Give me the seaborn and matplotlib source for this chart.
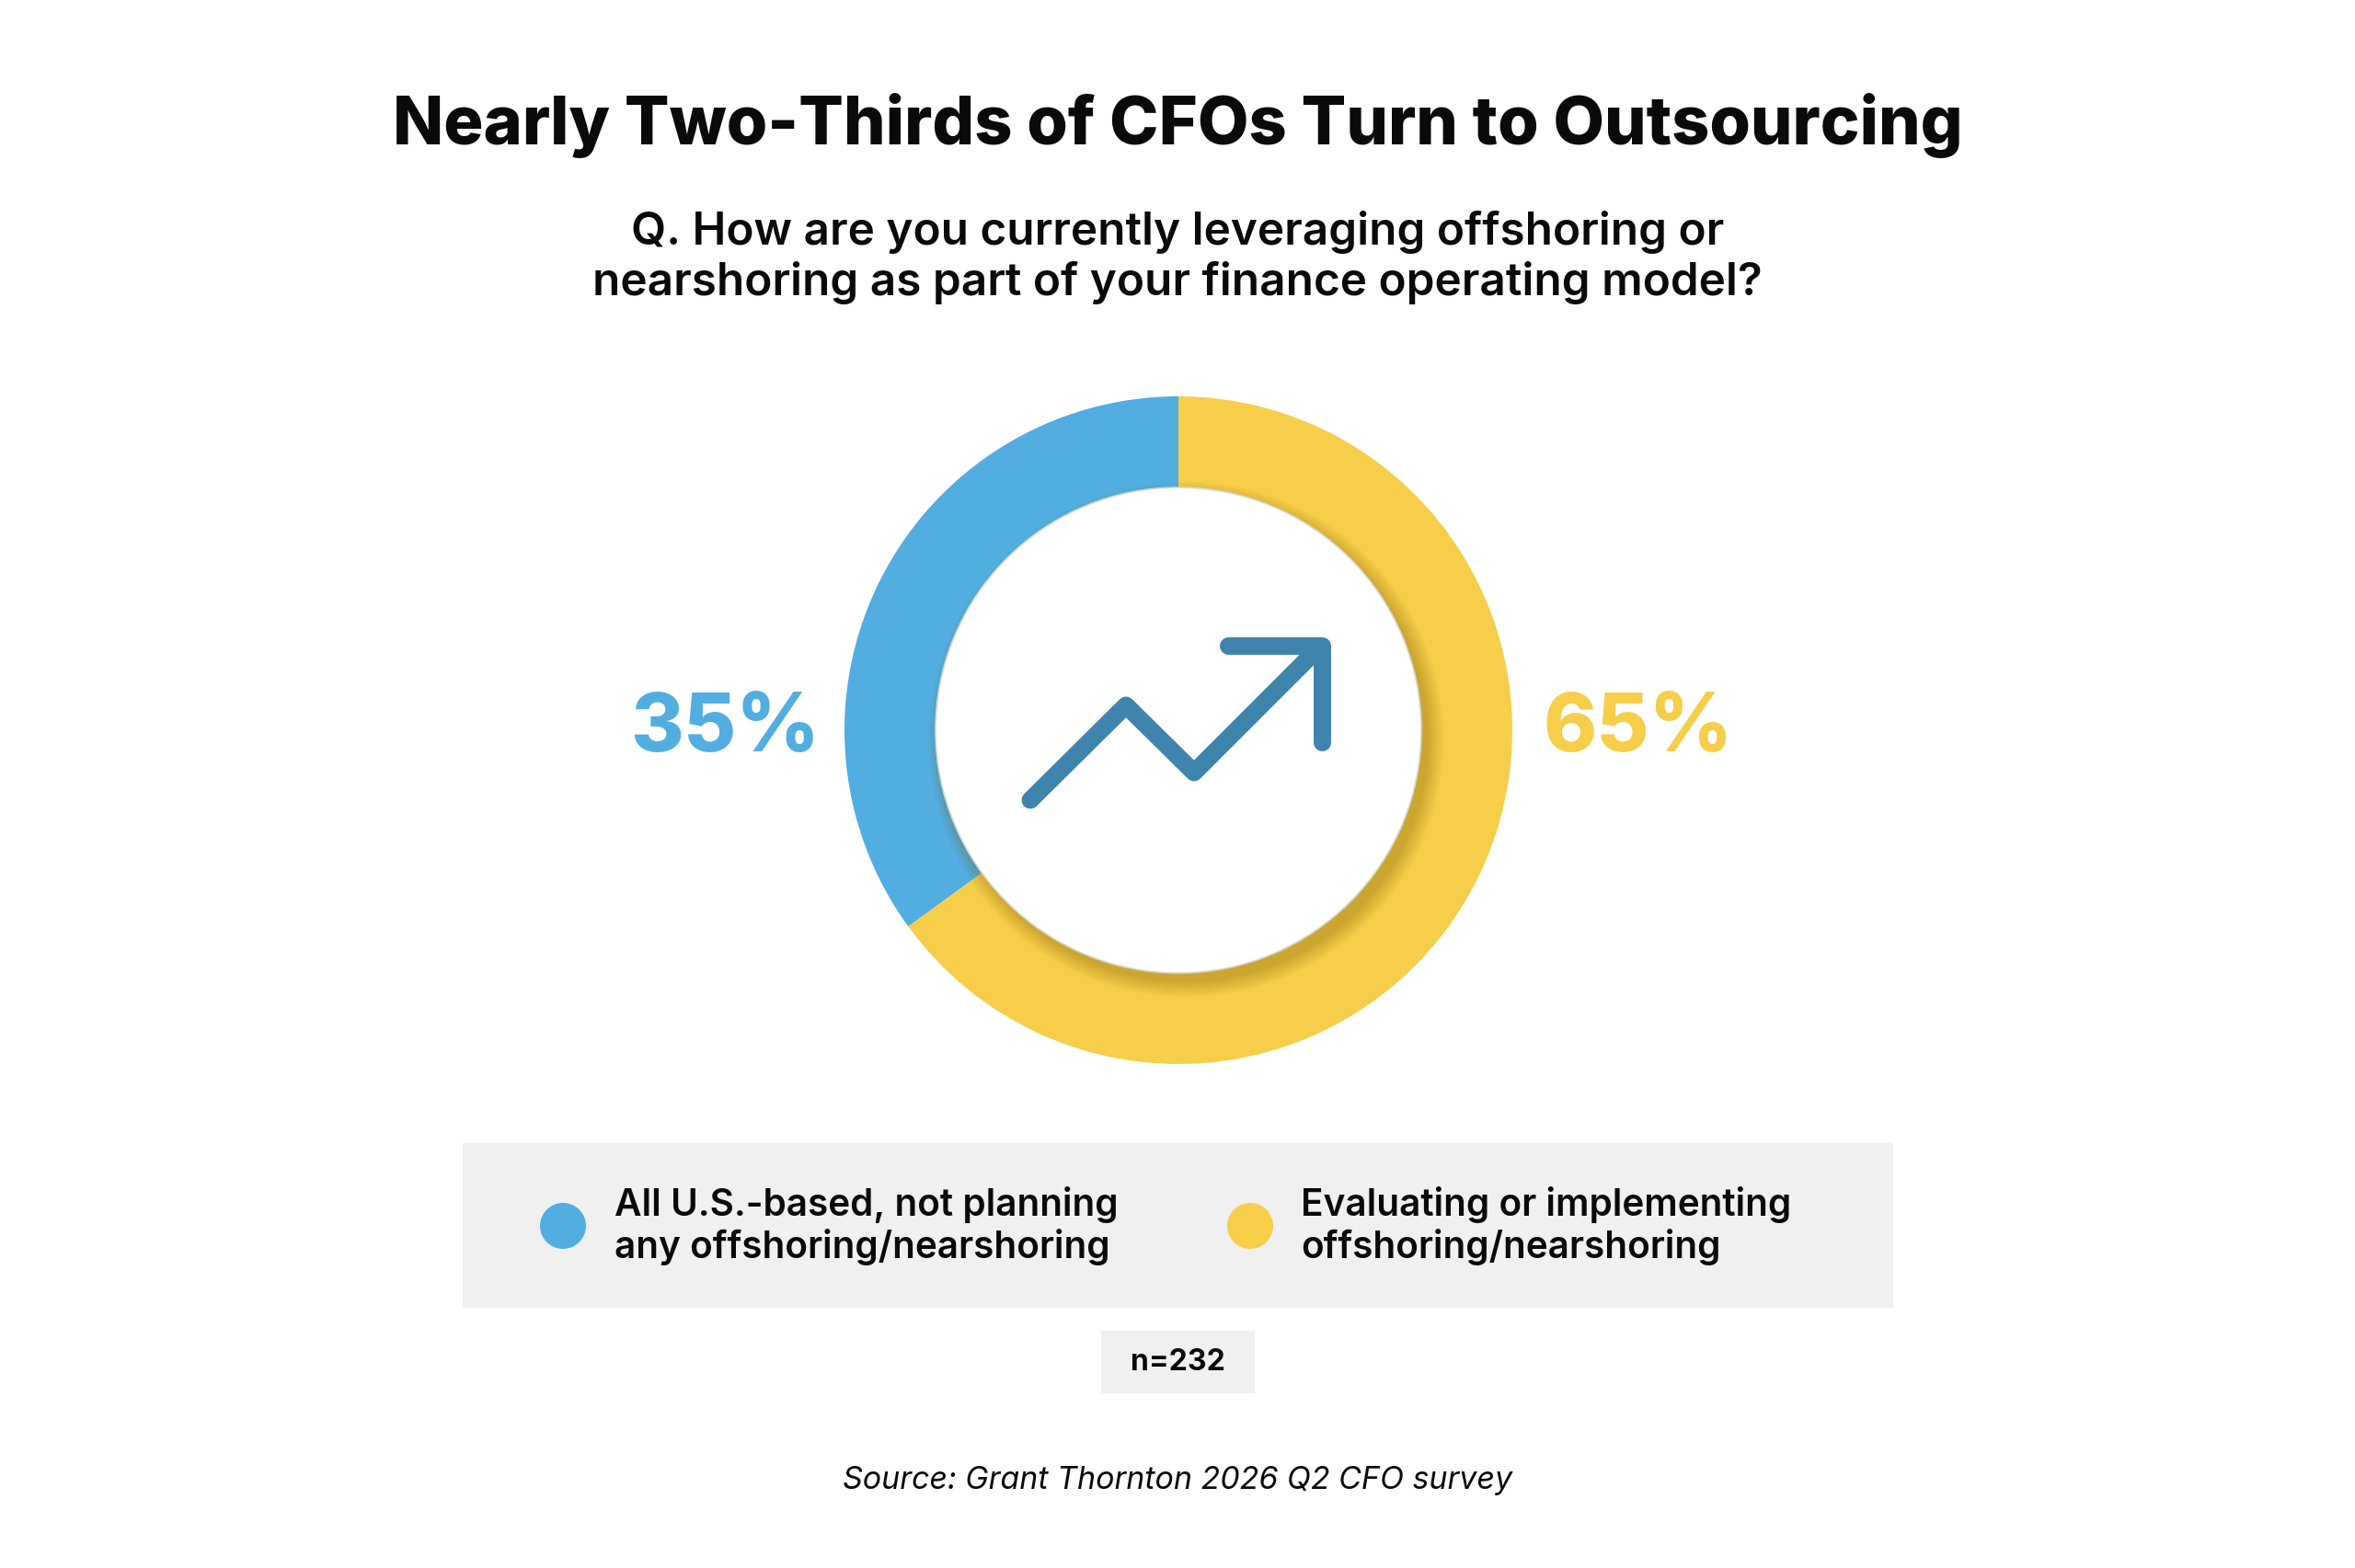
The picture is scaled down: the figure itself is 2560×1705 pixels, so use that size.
import matplotlib.pyplot as plt
import seaborn as sns
from matplotlib.patches import Circle, Rectangle

# data
categories = ["All U.S.-based, not planning\nany offshoring/nearshoring",
              "Evaluating or implementing\noffshoring/nearshoring"]
shares = [35, 65]
share_labels = ["35%", "65%"]
colors = ["#52ADE1", "#F7CE4A"]
sample_note = "n=232"
title = "Nearly Two-Thirds of CFOs Turn to Outsourcing"
question = "Q. How are you currently leveraging offshoring or\nnearshoring as part of your finance operating model?"
source = "Source: Grant Thornton 2026 Q2 CFO survey"

sns.set_theme(style="white")
plt.rcParams['font.family'] = ['Inter', 'DejaVu Sans']

W, H = 2560, 1705
fig = plt.figure(figsize=(25.6, 17.05), dpi=100)
ax = fig.add_axes([0, 0, 1, 1])


def Y(y):
    return H - y


def pt(px):
    return px * 72 / 100


cx, cy = 1281, Y(794)
r_out, r_in = 363, 264

# donut
ax.pie(shares, colors=colors, startangle=90, counterclock=True, center=(cx, cy),
       radius=r_out, wedgeprops=dict(width=r_out - r_in, linewidth=0), frame=True)
ax.set_xlim(0, W)
ax.set_ylim(0, H)
ax.axis('off')

# soft shadow of the inner disc
for k in range(10):
    ax.add_patch(Circle((cx + 8, cy - 10), r_in + 16 - k * 1.8, color="#7a5a00",
                        alpha=0.035, lw=0, zorder=3))
ax.add_patch(Circle((cx, cy), r_in, facecolor="white", edgecolor="#d8d8d8",
                    lw=1.2, zorder=4))

# trend icon
icon_color = "#3F84AD"
ax.plot([1120, 1224, 1298, 1430], [Y(870), Y(767), Y(840), Y(708)], color=icon_color,
        lw=pt(19), solid_capstyle='round', solid_joinstyle='round', zorder=5)
ax.plot([1335, 1437, 1437], [Y(702), Y(702), Y(807)], color=icon_color,
        lw=pt(19), solid_capstyle='round', solid_joinstyle='round', zorder=5)

# percentages
ax.text(cx - 493, cy, share_labels[0], color=colors[0], fontsize=pt(88),
        fontweight='heavy', ha='center', va='center', zorder=6)
ax.text(cx + 500, cy, share_labels[1], color=colors[1], fontsize=pt(88),
        fontweight='heavy', ha='center', va='center', zorder=6)

# titles
ax.text(W / 2, Y(137), title, fontsize=pt(72), fontweight='heavy', ha='center',
        va='center', color="#0a0a0a")
ax.text(W / 2, Y(280), question, fontsize=pt(49.5), fontweight='semibold', ha='center',
        va='center', color="#0a0a0a", linespacing=1.22)

# legend panel
ax.add_patch(Rectangle((503, Y(1422)), 2058 - 503, 1422 - 1243, color="#F0F0F0",
                       lw=0, zorder=1))
sns.scatterplot(x=[612, 1359], y=[Y(1333), Y(1333)], hue=categories, palette=colors,
                s=1296, linewidth=0, legend=False, ax=ax, zorder=2)
for xt, lab in zip([668, 1414], categories):
    ax.text(xt, Y(1333), lab, fontsize=pt(40.5), fontweight='semibold', ha='left',
            va='center', color="#0a0a0a", linespacing=1.2, zorder=3)

# sample size
ax.add_patch(Rectangle((1197, Y(1515)), 1364 - 1197, 1515 - 1447, color="#F0F0F0",
                       lw=0, zorder=1))
ax.text(1280, Y(1481), sample_note, fontsize=pt(32), fontweight='bold',
        ha='center', va='center', color="#0a0a0a", zorder=3)

# source
ax.text(1280, Y(1610), source, fontsize=pt(34), style='italic', ha='center',
        va='center', color="#0a0a0a")

fig.savefig("out.png", dpi=100, facecolor="white")
